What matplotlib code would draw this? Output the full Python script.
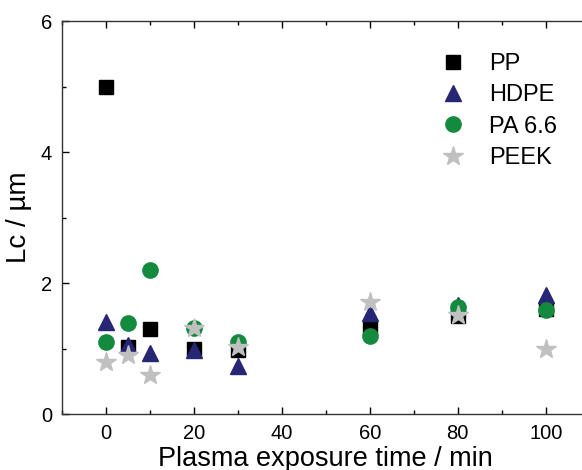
import numpy as np
import matplotlib.pyplot as plt
from matplotlib.ticker import MultipleLocator

plt.rcParams['font.family'] = ['Liberation Sans', 'DejaVu Sans']

# Plasma exposure times (min)
time = [0, 5, 10, 20, 30, 60, 80, 100]

# Lc values (um) per polymer
lc_pp = [5.0, 1.03, 1.3, 1.0, 0.98, 1.31, 1.5, 1.6]
lc_hdpe = [1.41, 1.06, 0.93, 0.98, 0.73, 1.54, 1.67, 1.82]
lc_pa66 = [1.1, 1.4, 2.2, 1.31, 1.11, 1.2, 1.64, 1.59]
lc_peek = [0.8, 0.9, 0.6, 1.31, 1.03, 1.72, 1.51, 1.0]

fig = plt.figure(figsize=(5.82, 4.70), dpi=100)
# axes run past the right edge of the figure, as in the source image
ax = fig.add_axes([0.106, 0.1185, 528 / 582, 0.8368])

ax.plot(time, lc_pp, 's', color='black', markersize=9.5, label='PP')
ax.plot(time, lc_hdpe, '^', color='#262675', markersize=12, label='HDPE')
ax.plot(time, lc_pa66, 'o', color='#138a3e', markersize=11, label='PA 6.6')
ax.plot(time, lc_peek, '*', color='#c0c0c0', markersize=15, label='PEEK')

ax.set_xlim(-10, 110)
ax.set_ylim(0, 6)
ax.xaxis.set_major_locator(MultipleLocator(20))
ax.xaxis.set_minor_locator(MultipleLocator(10))
ax.yaxis.set_major_locator(MultipleLocator(2))
ax.yaxis.set_minor_locator(MultipleLocator(1))
ax.tick_params(which='both', direction='in', top=True, labelsize=14.5, pad=7)
ax.tick_params(which='major', length=5, width=1)
ax.tick_params(which='minor', length=3, width=1)
for s in ax.spines.values():
    s.set_linewidth(1.0)
    s.set_color('#333333')

ax.set_xlabel('Plasma exposure time / min', fontsize=19.5, labelpad=2)
ax.set_ylabel('Lc / µm', fontsize=20, labelpad=6)

ax.legend(loc='upper left', bbox_to_anchor=(0.678, 0.943), frameon=False,
          fontsize=17, handletextpad=0.55, labelspacing=0.4, borderaxespad=0)

fig.savefig('out.png', dpi=100)
